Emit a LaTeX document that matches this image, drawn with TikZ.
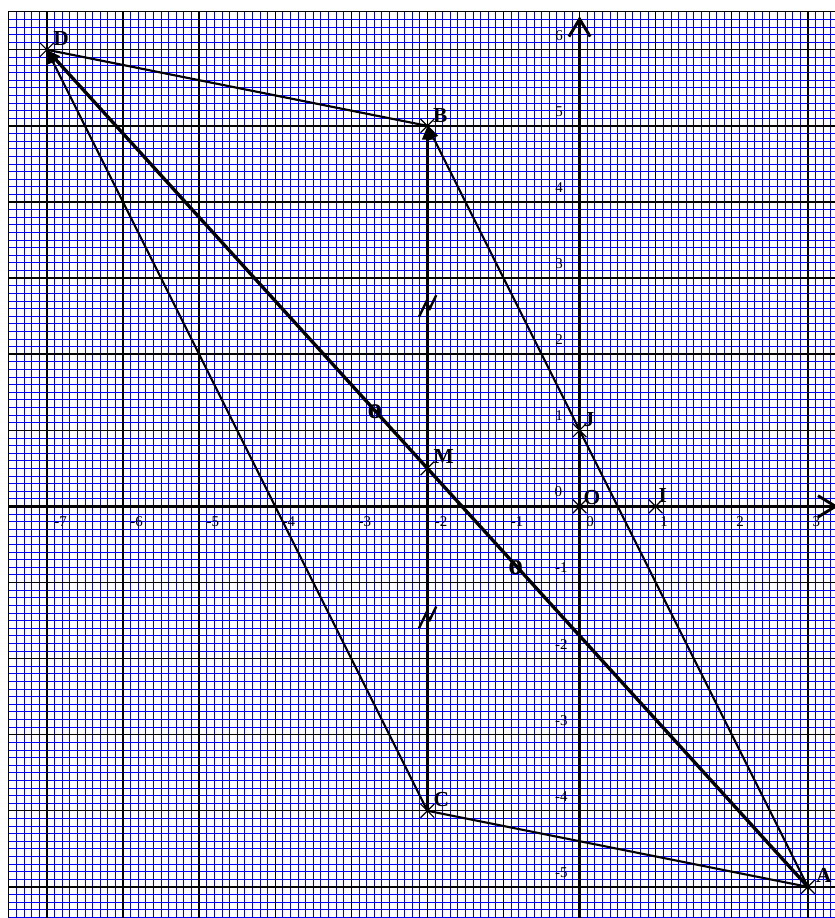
\documentclass[tikz,border=0pt]{standalone}
\usepackage{fontspec}
\setmainfont{Liberation Serif}
\usetikzlibrary{arrows.meta}
\begin{document}
\begin{tikzpicture}[
  minor/.style={blue, line width=0.28pt},
  major/.style={black, line width=0.5pt},
  axis/.style={line width=1.1pt, -{Straight Barb[length=2.3mm,width=2.8mm]}},
  thinseg/.style={line width=0.8pt},
  thickseg/.style={line width=1.25pt},
  headtip/.style={-{Triangle[length=1.8mm,width=1.3mm]}},
  cross/.style={line width=0.45pt},
  ptlabel/.style={font=\fontsize{8}{9}\selectfont\bfseries, inner sep=0pt, anchor=south west},
  ticklabel/.style={font=\fontsize{5.6}{6}\selectfont, inner sep=0pt},
  omark/.style={font=\fontsize{11}{12}\selectfont\bfseries, inner sep=0pt},
  hatch/.style={line width=0.9pt},
  dashline/.style={line width=0.5pt, dash pattern=on 1.9pt off 1.2pt}
]
\useasboundingbox (-7.616,-5.409) rectangle (3.356,6.654);
% grid
\begin{scope}
\clip (-7.5,-5.409) rectangle (3.356,6.5);
\foreach \i in {-75,...,34} \draw[minor] (\i/10,-5.5) -- (\i/10,6.5);
\foreach \j in {-55,...,65} \draw[minor] (-7.5,\j/10) -- (3.4,\j/10);
\foreach \i in {-7,...,3} \draw[major] (\i,-5.5) -- (\i,6.5);
\foreach \j in {-5,...,6} \draw[major] (-7.5,\j) -- (3.4,\j);
\end{scope}
\draw[major] (-7.5,-5.5) -- (-7.5,6.5) -- (3.4,6.5);
% axes
\coordinate (xs) at (-7.5,0);
\coordinate (xe) at (3.40,0);
\coordinate (ys) at (0,-5.5);
\coordinate (ye) at (0,6.44);
\draw[axis] (xs) -- (xe);
\draw[axis] (ys) -- (ye);
% tick labels
\foreach \x in {-7,...,-1} \node[ticklabel] (tx\x) at (\x+0.18,-0.2) {-\the\numexpr-\x\relax};
\node[ticklabel] (tx0) at (0.14,-0.2) {0};
\foreach \x in {1,2,3} \node[ticklabel] (tx\x) at (\x+0.11,-0.2) {\x};
\foreach \y in {1,...,6} \node[ticklabel] (ty\y) at (-0.27,\y+0.19) {\y};
\node[ticklabel] (ty0) at (-0.28,0.19) {0};
\foreach \y in {-5,...,-1} \node[ticklabel] (ty\y) at (-0.24,\y+0.19) {-\the\numexpr-\y\relax};
% points
\coordinate (A) at (3,-5);
\coordinate (B) at (-2,5);
\coordinate (C) at (-2,-4);
\coordinate (D) at (-7,6);
\coordinate (M) at (-2,0.5);
\coordinate (J) at (0,1);
\coordinate (O) at (0,0);
\coordinate (I) at (1,0);
\coordinate (Mp) at (0,0.5);
% segments
\draw[thinseg] (D) -- (B);
\draw[thinseg] (C) -- (A);
\draw[thinseg, headtip] (A) -- (B);
\draw[thinseg, headtip] (C) -- (D);
\draw[thickseg, headtip] (A) -- (D);
\draw[thickseg, headtip] (C) -- (B);
\draw[dashline] (M) -- (Mp);
% hatch marks
\coordinate (h1) at (-2.11,2.49);
\coordinate (h2) at (-2.11,-1.60);
\foreach \h in {h1,h2}
  \draw[hatch] (\h) -- ++(0.092,0.19) -- ++(0.05,-0.08) -- ++(0.085,0.175);
% o marks
\node[omark] (o1) at (-2.69,1.25) {o};
\node[omark] (o2) at (-0.84,-0.80) {o};
% crosses
\foreach \p in {A,B,C,D,M,J,O,I}
  \draw[cross, shift={(\p)}] (-0.09,-0.09) -- (0.09,0.09) (-0.09,0.09) -- (0.09,-0.09);
% point labels
\node[ptlabel] (lD) at (-6.92,6.05) {D};
\node[ptlabel] (lB) at (-1.93,5.04) {B};
\node[ptlabel] (lJ) at (0.045,1.04) {J};
\node[ptlabel] (lM) at (-1.925,0.56) {M};
\node[ptlabel] (lO) at (0.045,0.01) {O};
\node[ptlabel] (lI) at (1.03,0.045) {I};
\node[ptlabel] (lC) at (-1.925,-3.955) {C};
\node[ptlabel] (lA) at (3.1,-4.95) {A};
\end{tikzpicture}
\end{document}
